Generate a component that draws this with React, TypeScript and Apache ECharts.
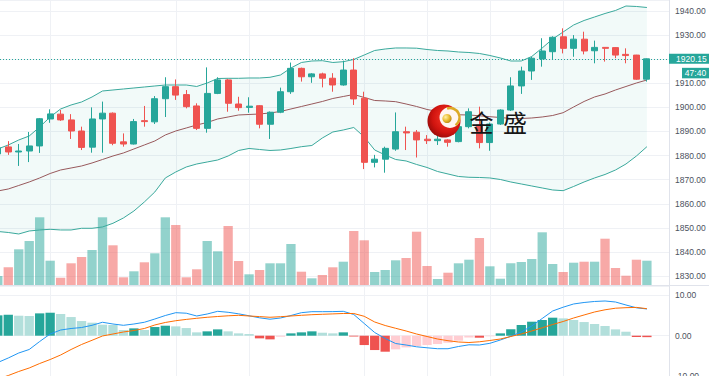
import React, { useEffect, useRef } from "react";
import * as echarts from "echarts";

// ---------------- data ----------------
const opens = [1880.7,1883.6,1881.5,1881.9,1884.0,1895.2,1897.2,1894.8,1890.2,1883.5,
  1895.2,1897.6,1885.7,1884.8,1894.5,1894.0,1903.6,1908.6,1905.3,1900.6,
  1891.3,1905.8,1911.4,1901.4,1900.0,1900.7,1893.0,1898.0,1906.5,1916.2,
  1912.7,1913.9,1912.1,1909.3,1915.5,1903.8,1877.2,1878.5,1882.7,1889.9,
  1889.7,1886.8,1886.2,1886.5,1885.8,1892.0,1892.7,1885.4,1893.1,1898.9,
  1908.9,1915.1,1920.1,1923.1,1929.3,1924.5,1928.3,1923.5,1924.9,1924.8,
  1922.0,1921.7,1911.7];
const highs = [1884.0,1886.0,1884.8,1889.8,1895.6,1899.2,1898.9,1897.2,1892.0,1900.0,
  1902.4,1897.9,1889.2,1895.2,1900.6,1904.7,1912.5,1911.6,1907.2,1901.7,
  1916.6,1912.5,1911.8,1904.4,1904.2,1900.9,1898.3,1908.2,1918.6,1916.5,
  1914.2,1914.4,1914.2,1919.4,1920.4,1906.5,1880.3,1883.7,1897.9,1892.0,
  1890.6,1888.5,1888.5,1886.8,1893.1,1899.6,1900.3,1893.7,1899.2,1912.5,
  1916.9,1921.0,1928.7,1929.5,1932.8,1930.0,1931.4,1927.7,1925.0,1925.0,
  1924.5,1921.8,1920.3];
const lows = [1879.8,1880.3,1875.7,1877.3,1881.1,1893.6,1894.4,1886.9,1882.3,1881.2,
  1881.2,1884.3,1883.7,1884.6,1892.0,1893.1,1896.0,1903.1,1899.6,1890.6,
  1889.5,1905.5,1898.2,1898.6,1897.8,1891.3,1886.9,1897.6,1905.6,1910.7,
  1910.2,1908.3,1906.5,1909.0,1901.0,1874.4,1875.1,1872.9,1882.0,1882.3,
  1879.2,1884.8,1884.4,1883.7,1885.5,1891.3,1883.0,1882.0,1892.7,1898.5,
  1905.6,1911.4,1916.9,1920.0,1922.4,1921.0,1922.0,1918.3,1919.0,1920.4,
  1918.3,1911.4,1910.7];
const closes = [1883.2,1881.5,1881.9,1884.0,1895.3,1897.3,1894.8,1890.2,1883.4,1895.2,
  1897.6,1885.1,1884.8,1894.1,1894.1,1903.6,1908.6,1905.1,1900.3,1891.3,
  1905.8,1911.4,1901.7,1899.9,1900.5,1893.0,1898.0,1906.5,1916.2,1912.7,
  1913.9,1912.1,1909.3,1915.5,1903.5,1877.2,1878.5,1883.0,1889.9,1889.4,
  1886.5,1886.2,1886.8,1885.5,1892.0,1898.2,1885.4,1893.1,1898.9,1908.9,
  1915.1,1920.4,1923.4,1929.1,1924.5,1928.3,1923.4,1924.9,1924.5,1921.7,
  1921.5,1911.7,1920.15];
const volumes = [900,1770,3570,4400,6770,2430,730,2170,2800,3500,
  6770,3970,770,1370,2270,3170,6770,6000,770,1570,
  4400,3370,5900,2400,1070,1500,2170,2170,4100,1330,
  670,1000,1770,2330,5400,4470,1300,1500,2470,2700,
  5330,1900,600,1230,2170,2530,4700,1870,630,2170,
  2300,2600,5270,2100,1300,2230,2330,2330,4630,1700,
  930,2530,2430];
const bbUpper = [1882.74,1884.40,1886.47,1888.13,1891.87,1896.02,1899.34,1901.00,1902.24,1904.32,
  1906.80,1907.22,1907.63,1908.05,1908.46,1908.88,1909.29,1909.29,1909.29,1908.67,
  1910.12,1911.99,1912.07,1912.07,1912.20,1912.20,1912.49,1913.44,1916.35,1918.63,
  1919.25,1919.38,1918.63,1918.96,1919.88,1921.74,1923.61,1924.23,1924.65,1924.65,
  1924.56,1924.02,1923.61,1923.40,1922.99,1922.78,1922.37,1921.54,1920.50,1919.25,
  1919.25,1921.12,1924.65,1928.38,1931.29,1934.19,1936.06,1937.51,1938.96,1940.21,
  1942.07,1941.87,1941.45];
const bbMiddle = [1865.31,1866.14,1867.59,1869.05,1870.71,1872.57,1874.02,1874.85,1875.68,1876.93,
  1878.38,1879.83,1881.08,1882.74,1884.40,1886.06,1888.55,1890.21,1891.45,1892.70,
  1893.73,1895.19,1896.02,1896.85,1897.05,1897.26,1897.68,1898.30,1899.34,1900.37,
  1901.41,1902.45,1903.69,1904.52,1905.35,1904.11,1902.86,1902.66,1902.37,1901.41,
  1900.37,1899.13,1898.30,1897.47,1896.93,1896.85,1896.51,1896.14,1895.81,1895.39,
  1895.39,1895.60,1896.02,1896.64,1897.80,1900.17,1902.45,1904.32,1905.56,1907.22,
  1908.67,1910.12,1911.37];
const bbLower = [1848.51,1848.09,1847.47,1848.71,1849.13,1849.42,1849.13,1849.13,1849.83,1849.83,
  1850.37,1851.91,1854.11,1857.01,1860.75,1864.90,1870.71,1873.20,1875.27,1876.51,
  1877.34,1878.17,1879.83,1882.12,1882.95,1882.53,1882.12,1882.32,1882.95,1883.69,
  1884.19,1887.30,1889.79,1890.62,1891.66,1887.72,1882.32,1880.25,1878.38,1877.76,
  1876.31,1875.06,1873.40,1872.37,1871.33,1871.00,1870.91,1870.71,1870.08,1869.05,
  1868.22,1867.39,1866.56,1865.73,1865.44,1867.18,1869.05,1870.71,1872.16,1874.02,
  1876.51,1879.83,1883.69];
const macdLine = [-6.65,-5.53,-4.29,-3.42,-1.44,0.42,1.41,1.79,2.03,2.58,
  3.33,2.90,2.58,2.90,3.33,4.14,5.01,5.71,5.58,4.89,
  5.38,6.05,5.81,5.43,4.94,4.44,4.09,4.39,5.01,5.71,
  5.96,5.96,5.98,6.05,5.26,3.03,0.79,-0.69,-1.94,-2.31,
  -2.75,-3.00,-3.23,-3.23,-2.68,-2.26,-2.31,-1.89,-1.07,-0.15,
  0.92,2.41,4.27,6.13,7.07,7.87,8.24,8.49,8.61,8.36,
  7.62,6.92,6.63];
const signalLine = [-10.74,-9.88,-8.88,-8.01,-6.90,-5.91,-4.79,-3.42,-2.18,-1.14,
  -0.07,0.42,0.92,1.29,1.79,2.66,3.28,3.72,4.04,4.32,
  4.57,4.76,4.94,5.06,4.89,4.74,4.57,4.71,4.89,5.06,
  5.21,5.31,5.41,5.51,5.51,4.81,3.40,2.53,1.84,1.17,
  0.42,-0.20,-0.82,-1.24,-1.56,-1.69,-1.51,-1.19,-0.82,-0.20,
  0.42,1.17,1.96,2.78,3.52,4.39,5.14,5.88,6.43,6.82,
  6.95,7.02,6.70];
const macdHist = [5.05,5.2,4.96,4.9,5.54,5.7,5.38,4.63,3.64,3.23,
  2.73,2.65,1.41,1.82,1.41,2.15,2.48,2.32,1.9,0.83,
  1.08,1.57,1.08,0.58,0.41,-0.66,-0.91,-0.25,0.58,0.83,
  1.08,0.74,0.58,0.83,-0.2,-2.32,-3.56,-3.97,-3.39,-2.9,
  -2.56,-2.32,-2.07,-1.74,-1.24,-0.45,-0.5,-0.15,0.58,1.57,
  2.65,3.47,3.89,4.47,4.3,3.89,3.39,2.9,2.4,1.57,
  0.99,-0.33,-0.36];
const timeGridIdx = [5, 17, 24, 35, 41, 47, 54];
const countdownText = "47:40";
const brandChars = ["金", "盛"];

// ---------------- view constants ----------------
const W = 709;
const H = 376;
const PLOT_RIGHT = 669;
const X_MIN = 0.21;
const X_MAX = 64.11;
const PRICE_MIN = 1826.3;
const PRICE_MAX = 1944.56;
const MACD_MIN = -10.99;
const MACD_MAX = 12.33;
const VOL_MAX = 28500;
const UP = "#26a69a";
const DOWN = "#ef5350";
const VOL_UP = "rgba(38,166,154,0.5)";
const VOL_DOWN = "rgba(239,83,80,0.5)";
const BAND = "#3aa99c";
const BASIS = "#98595c";
const GRID_LINE = "#eff1f5";
const AXIS_LINE = "#e0e3eb";
const LABEL = "#4c525e";
const FONT = "'Liberation Sans', Arial, sans-serif";
const CJK_FONT = "'Noto Sans CJK SC', sans-serif";

export default function App() {
  const ref = useRef<HTMLDivElement | null>(null);

  useEffect(() => {
    if (!ref.current) return;
    const chart = echarts.init(ref.current, null, { renderer: "svg" });

    const idx = closes.map((_, i) => i);
    const isUp = (i: number) => closes[i] >= opens[i];
    const candleData = idx.map((i) => [i, opens[i], closes[i], lows[i], highs[i]]);
    const volData = idx.map((i) => ({
      value: [i, volumes[i]],
      itemStyle: { color: isUp(i) ? VOL_UP : VOL_DOWN },
    }));
    const toPairs = (arr: number[]) => arr.map((v, i) => [i, v]);
    const histColor = (i: number) => {
      const h = macdHist[i];
      const prev = i > 0 ? macdHist[i - 1] : null;
      if (h >= 0) return prev === null || h >= prev ? "#26a69a" : "#b2dfdb";
      return prev !== null && h > prev ? "#ffcdd2" : "#ef5350";
    };
    const histData = idx.map((i) => ({ value: [i, macdHist[i]], itemStyle: { color: histColor(i) } }));
    const vGrid = timeGridIdx.map((i) => ({ xAxis: i }));
    const lastPrice = closes[closes.length - 1];
    const labelFmt = (v: number) =>
      Math.abs(v / 10 - Math.round(v / 10)) < 1e-6 ? (Math.abs(v) < 1e-9 ? 0 : v).toFixed(2) : "";

    const vGridMarkLine = {
      silent: true,
      symbol: "none",
      z: 0,
      label: { show: false },
      emphasis: { disabled: true },
      lineStyle: { color: GRID_LINE, width: 1, type: "solid" },
      data: vGrid,
    };

    const priceAxisCommon = {
      type: "value",
      position: "right",
      minInterval: 10,
      maxInterval: 10,
      axisLine: { show: true, onZero: false, lineStyle: { color: AXIS_LINE, width: 1 } },
      axisTick: { show: false },
      axisLabel: { formatter: labelFmt, fontSize: 8.5, color: LABEL, margin: 6, fontFamily: FONT },
      splitLine: { show: true, lineStyle: { color: GRID_LINE, width: 1 } },
    };

    const option: any = {
      animation: false,
      backgroundColor: "#ffffff",
      textStyle: { fontFamily: FONT },
      grid: [
        { left: 0, top: 0, width: PLOT_RIGHT, height: 285, containLabel: false, outerBoundsMode: "none" },
        { left: 0, top: 286, width: PLOT_RIGHT, height: 94, containLabel: false, outerBoundsMode: "none" },
      ],
      xAxis: [
        { type: "value", gridIndex: 0, min: X_MIN, max: X_MAX, show: false, splitLine: { show: false } },
        { type: "value", gridIndex: 1, min: X_MIN, max: X_MAX, show: false, splitLine: { show: false } },
      ],
      yAxis: [
        { ...priceAxisCommon, gridIndex: 0, min: PRICE_MIN, max: PRICE_MAX },
        { type: "value", gridIndex: 0, min: 0, max: VOL_MAX, show: false, splitLine: { show: false } },
        { ...priceAxisCommon, gridIndex: 1, min: MACD_MIN, max: MACD_MAX },
      ],
      series: [
        {
          name: "BB fill",
          type: "custom",
          xAxisIndex: 0,
          yAxisIndex: 0,
          z: 1,
          silent: true,
          data: [[0, bbMiddle[0]]],
          encode: { x: 0, y: 1 },
          renderItem: (_params: any, api: any) => {
            const pts: number[][] = [];
            for (let i = 0; i < bbUpper.length; i++) pts.push(api.coord([i, bbUpper[i]]));
            for (let i = bbLower.length - 1; i >= 0; i--) pts.push(api.coord([i, bbLower[i]]));
            return { type: "polygon", shape: { points: pts }, style: { fill: "rgba(38,166,154,0.06)" } };
          },
        },
        {
          name: "Volume",
          type: "bar",
          xAxisIndex: 0,
          yAxisIndex: 1,
          barWidth: 9.3,
          z: 2,
          data: volData,
          markLine: vGridMarkLine,
        },
        {
          name: "BB Upper",
          type: "line",
          xAxisIndex: 0,
          yAxisIndex: 0,
          data: toPairs(bbUpper),
          symbol: "none",
          showSymbol: false,
          lineStyle: { color: BAND, width: 1 },
          z: 3,
        },
        {
          name: "BB Lower",
          type: "line",
          xAxisIndex: 0,
          yAxisIndex: 0,
          data: toPairs(bbLower),
          symbol: "none",
          showSymbol: false,
          lineStyle: { color: BAND, width: 1 },
          z: 3,
        },
        {
          name: "BB Basis",
          type: "line",
          xAxisIndex: 0,
          yAxisIndex: 0,
          data: toPairs(bbMiddle),
          symbol: "none",
          showSymbol: false,
          lineStyle: { color: BASIS, width: 1 },
          z: 3,
        },
        {
          name: "Price",
          type: "candlestick",
          xAxisIndex: 0,
          yAxisIndex: 0,
          barWidth: 6.5,
          z: 4,
          data: candleData,
          encode: { x: 0, y: [1, 2, 3, 4] },
          itemStyle: { color: UP, color0: DOWN, borderColor: UP, borderColor0: DOWN, borderWidth: 1 },
          markLine: {
            silent: true,
            symbol: "none",
            z: 3,
            label: { show: false },
            emphasis: { disabled: true },
            lineStyle: { color: UP, width: 1, type: [1, 2] },
            data: [{ yAxis: lastPrice }],
          },
        },
        {
          name: "Histogram",
          type: "bar",
          xAxisIndex: 1,
          yAxisIndex: 2,
          barWidth: 9.3,
          z: 2,
          data: histData,
          markLine: vGridMarkLine,
        },
        {
          name: "MACD",
          type: "line",
          xAxisIndex: 1,
          yAxisIndex: 2,
          data: toPairs(macdLine),
          symbol: "none",
          showSymbol: false,
          lineStyle: { color: "#2196f3", width: 1 },
          z: 3,
        },
        {
          name: "Signal",
          type: "line",
          xAxisIndex: 1,
          yAxisIndex: 2,
          data: toPairs(signalLine),
          symbol: "none",
          showSymbol: false,
          lineStyle: { color: "#ff6d00", width: 1 },
          z: 3,
        },
      ],
    };

    chart.setOption(option);

    const yLast = chart.convertToPixel({ yAxisIndex: 0 } as any, lastPrice) as unknown as number;
    const gold = new echarts.graphic.RadialGradient(0.35, 0.35, 0.8, [
      { offset: 0, color: "#fff3a8" },
      { offset: 0.5, color: "#e9bb2e" },
      { offset: 1, color: "#a8780e" },
    ]);
    const red = new echarts.graphic.RadialGradient(0.6, 0.4, 0.75, [
      { offset: 0, color: "#ff3b2b" },
      { offset: 0.6, color: "#d0140f" },
      { offset: 1, color: "#7e0606" },
    ]);
    const txt = (text: string, x: number, y: number, align: string, extra: any = {}) => ({
      type: "text",
      x,
      y,
      z: 60,
      zlevel: 0,
      silent: true,
      style: {
        text,
        fill: "#ffffff",
        fontSize: 8.5,
        fontFamily: FONT,
        textAlign: align,
        align,
        textVerticalAlign: "middle",
        verticalAlign: "middle",
        ...extra,
      },
    });

    chart.setOption({
      graphic: [
        {
          type: "line",
          z: 50,
          silent: true,
          shape: { x1: 0, y1: 285.5, x2: W, y2: 285.5 },
          style: { stroke: AXIS_LINE, lineWidth: 1 },
        },
        {
          type: "rect",
          z: 55,
          silent: true,
          shape: { x: PLOT_RIGHT, y: yLast - 5, width: W - PLOT_RIGHT, height: 10 },
          style: { fill: UP },
        },
        txt(lastPrice.toFixed(2), PLOT_RIGHT + 7, yLast + 0.5, "left"),
        {
          type: "rect",
          z: 55,
          silent: true,
          shape: { x: PLOT_RIGHT + 13, y: yLast + 9, width: 27, height: 10.5 },
          style: { fill: UP },
        },
        txt(countdownText, PLOT_RIGHT + 26.5, yLast + 14.5, "center"),
        { type: "circle", z: 70, silent: true, shape: { cx: 444, cy: 121, r: 16.5 }, style: { fill: red } },
        { type: "circle", z: 71, silent: true, shape: { cx: 450, cy: 117.5, r: 10.5 }, style: { fill: "#fff6f0" } },
        {
          type: "arc",
          z: 72,
          silent: true,
          shape: { cx: 450, cy: 117.5, r: 9.5, startAngle: -Math.PI * 0.6, endAngle: Math.PI * 0.3, clockwise: true },
          style: { stroke: "#dcaa26", lineWidth: 2.5, fill: "none" },
        },
        { type: "circle", z: 73, silent: true, shape: { cx: 447, cy: 118.5, r: 4.6 }, style: { fill: gold } },
        txt(brandChars[0], 481.5, 121.5, "center", { fill: "#161616", fontSize: 24, fontFamily: CJK_FONT }),
        txt(brandChars[1], 515, 121.5, "center", { fill: "#161616", fontSize: 24, fontFamily: CJK_FONT }),
      ],
    });

    return () => chart.dispose();
  }, []);

  return (
    <div
      ref={ref}
      style={{ position: "fixed", left: 0, top: 0, width: W, height: H, background: "#ffffff", overflow: "hidden" }}
    />
  );
}
